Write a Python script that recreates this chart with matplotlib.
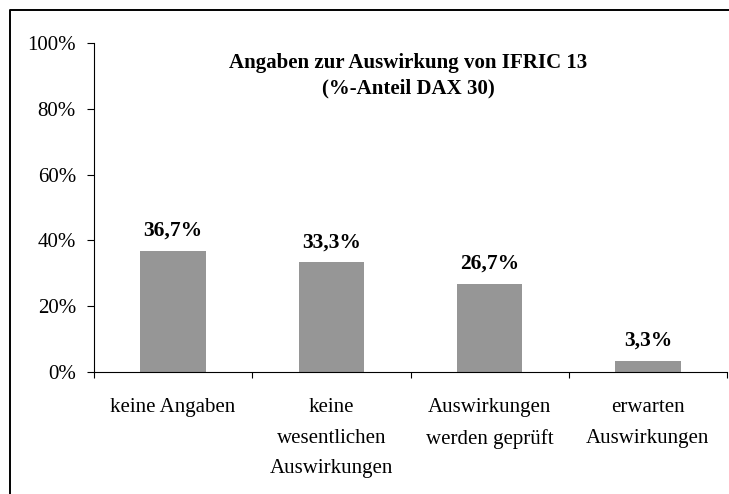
import matplotlib
matplotlib.use("Agg")
import matplotlib.pyplot as plt
from matplotlib.lines import Line2D
from matplotlib.ticker import FixedLocator, FuncFormatter

categories = ["keine Angaben", "keine\nwesentlichen\nAuswirkungen",
              "Auswirkungen\nwerden geprüft", "erwarten\nAuswirkungen"]
values = [36.7, 33.3, 26.7, 3.3]
y_ticks = [0, 20, 40, 60, 80, 100]
title_lines = ["Angaben zur Auswirkung von IFRIC 13", "(%-Anteil DAX 30)"]

plt.rcParams['font.family'] = ['Liberation Serif', 'DejaVu Serif']

W, H = 729, 494
fig = plt.figure(figsize=(W / 100, H / 100), dpi=100)
ax = fig.add_axes([94 / W, 1 - 372 / H, 633 / W, 329 / H])

x = list(range(len(categories)))
ax.bar(x, values, width=0.414, color="#969696", zorder=2)

for xi, v in zip(x, values):
    ax.annotate(f"{v:.1f}".replace(".", ",") + "%", xy=(xi, v), xytext=(0, 11),
                textcoords="offset points", ha="center", va="baseline",
                fontsize=15.5, fontweight="bold")

ax.set_xlim(-0.5, len(categories) - 0.5)
ax.set_ylim(0, 100)
ax.set_yticks(y_ticks)
ax.yaxis.set_major_formatter(FuncFormatter(lambda v, p: f"{int(v)}%"))
ax.tick_params(axis="y", direction="out", length=5, width=0.8, pad=8, labelsize=15)

ax.set_xticks(x)
ax.set_xticklabels(categories, fontsize=15, linespacing=1.85)
ax.tick_params(axis="x", which="major", length=0, pad=18.5)
ax.xaxis.set_minor_locator(FixedLocator([i - 0.5 for i in range(len(categories) + 1)]))
ax.tick_params(axis="x", which="minor", direction="out", length=4.5, width=0.8)

for s in ["top", "right"]:
    ax.spines[s].set_visible(False)
for s in ["left", "bottom"]:
    ax.spines[s].set_linewidth(0.8)
    ax.spines[s].set_color("black")

# title
tx = 408 / W
fig.text(tx, 1 - 68 / H, title_lines[0], ha="center", va="baseline",
         fontsize=15, fontweight="bold")
fig.text(tx, 1 - 93 / H, title_lines[1], ha="center", va="baseline",
         fontsize=15, fontweight="bold")

# chart area border (left and top)
bx, by = 9.5 / W, 1 - 10 / H
fig.add_artist(Line2D([bx, bx, 1.0], [0.0, by, by], transform=fig.transFigure,
                      color="black", linewidth=1.4))

fig.savefig("out.png", dpi=100)
